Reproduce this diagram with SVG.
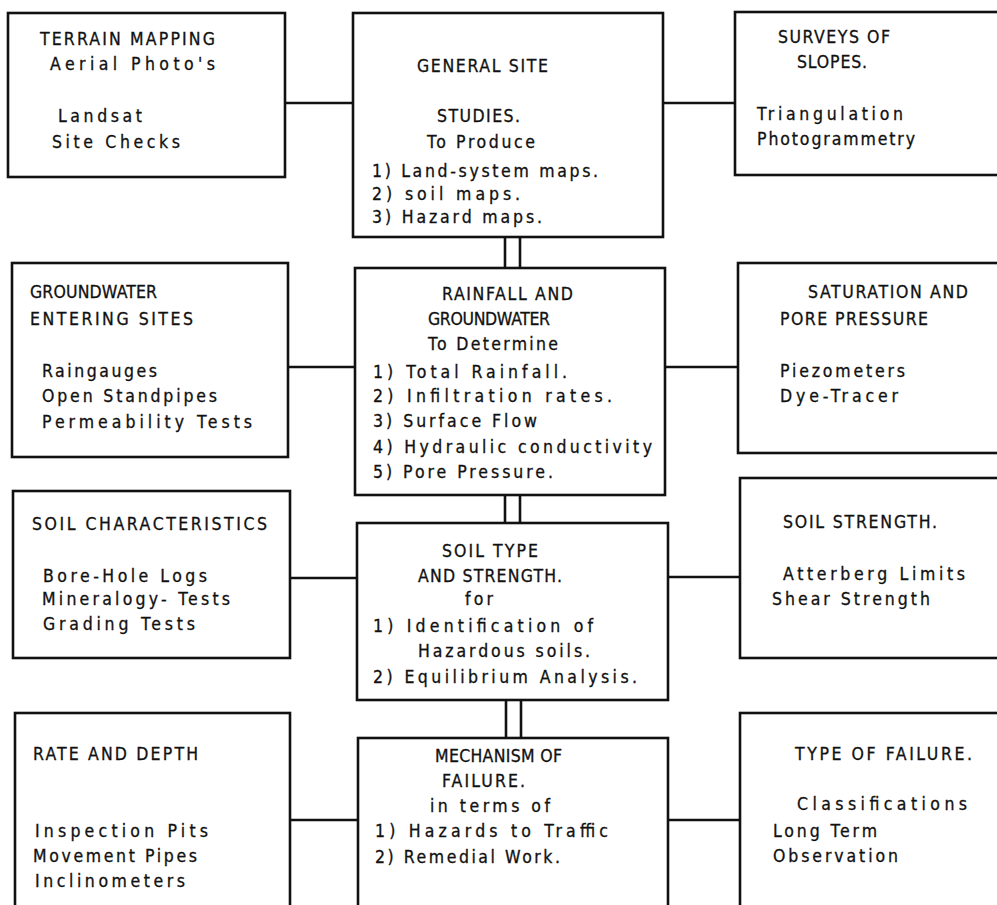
<svg xmlns="http://www.w3.org/2000/svg" width="997" height="905" viewBox="0 0 997 905">
<style>
  .box { fill: #ffffff; stroke: #111111; stroke-width: 2.6; }
  .ln { stroke: #111111; stroke-width: 2.6; fill: none; }
  text { font-family: "DejaVu Sans Condensed", "Liberation Sans", Arial, sans-serif; font-stretch: condensed; font-size: 17.5px; fill: #111111; stroke: #111111; stroke-width: 0.3; }
</style>
<rect width="997" height="905" fill="#ffffff"/>
<g id="connectors">
  <line class="ln" x1="285" y1="103" x2="353" y2="103"/>
  <line class="ln" x1="663" y1="103" x2="735" y2="103"/>
  <line class="ln" x1="288" y1="367" x2="355" y2="367"/>
  <line class="ln" x1="665" y1="367" x2="738" y2="367"/>
  <line class="ln" x1="290" y1="578" x2="357" y2="578"/>
  <line class="ln" x1="668" y1="577" x2="740" y2="577"/>
  <line class="ln" x1="290" y1="820" x2="358" y2="820"/>
  <line class="ln" x1="668" y1="820" x2="740" y2="820"/>
  <line class="ln" x1="505" y1="237" x2="505" y2="268"/>
  <line class="ln" x1="520" y1="237" x2="520" y2="268"/>
  <line class="ln" x1="505" y1="495" x2="505" y2="523"/>
  <line class="ln" x1="520" y1="495" x2="520" y2="523"/>
  <line class="ln" x1="506" y1="700" x2="506" y2="738"/>
  <line class="ln" x1="521" y1="700" x2="521" y2="738"/>
</g>
<g id="terrain-mapping">
  <rect class="box" x="8" y="13" width="277" height="164"/>
  <text x="40" y="45" textLength="175" lengthAdjust="spacing">TERRAIN MAPPING</text>
  <text x="50" y="70" textLength="165" lengthAdjust="spacing">Aerial Photo's</text>
  <text x="58" y="122" textLength="84" lengthAdjust="spacing">Landsat</text>
  <text x="52" y="148" textLength="128" lengthAdjust="spacing">Site Checks</text>
</g>
<g id="general-site-studies">
  <rect class="box" x="353" y="13" width="310" height="224"/>
  <text x="417" y="72" textLength="131" lengthAdjust="spacing">GENERAL SITE</text>
  <text x="437" y="122" textLength="83" lengthAdjust="spacing">STUDIES.</text>
  <text x="427" y="148" textLength="108" lengthAdjust="spacing">To Produce</text>
  <text x="372" y="177" textLength="226" lengthAdjust="spacing">1) Land-system maps.</text>
  <text x="372" y="200" textLength="148" lengthAdjust="spacing">2) soil maps.</text>
  <text x="372" y="223" textLength="170" lengthAdjust="spacing">3) Hazard maps.</text>
</g>
<g id="surveys-of-slopes">
  <rect class="box" x="735" y="12" width="280" height="163"/>
  <text x="778" y="43" textLength="112" lengthAdjust="spacing">SURVEYS OF</text>
  <text x="797" y="68" textLength="70" lengthAdjust="spacing">SLOPES.</text>
  <text x="757" y="120" textLength="146" lengthAdjust="spacing">Triangulation</text>
  <text x="757" y="145" textLength="158" lengthAdjust="spacing">Photogrammetry</text>
</g>
<g id="groundwater-entering-sites">
  <rect class="box" x="12" y="263" width="276" height="194"/>
  <text x="30" y="298" textLength="127" lengthAdjust="spacing">GROUNDWATER</text>
  <text x="30" y="325" textLength="163" lengthAdjust="spacing">ENTERING SITES</text>
  <text x="42" y="377" textLength="115" lengthAdjust="spacing">Raingauges</text>
  <text x="42" y="402" textLength="175" lengthAdjust="spacing">Open Standpipes</text>
  <text x="42" y="428" textLength="210" lengthAdjust="spacing">Permeability Tests</text>
</g>
<g id="rainfall-groundwater">
  <rect class="box" x="355" y="268" width="310" height="227"/>
  <text x="442" y="300" textLength="131" lengthAdjust="spacing">RAINFALL AND</text>
  <text x="428" y="325" textLength="122" lengthAdjust="spacing">GROUNDWATER</text>
  <text x="428" y="350" textLength="130" lengthAdjust="spacing">To Determine</text>
  <text x="373" y="378" textLength="194" lengthAdjust="spacing">1) Total Rainfall.</text>
  <text x="373" y="402" textLength="239" lengthAdjust="spacing">2) Infiltration rates.</text>
  <text x="373" y="427" textLength="164" lengthAdjust="spacing">3) Surface Flow</text>
  <text x="373" y="453" textLength="279" lengthAdjust="spacing">4) Hydraulic conductivity</text>
  <text x="373" y="478" textLength="180" lengthAdjust="spacing">5) Pore Pressure.</text>
</g>
<g id="saturation-pore-pressure">
  <rect class="box" x="738" y="263" width="280" height="190"/>
  <text x="808" y="298" textLength="160" lengthAdjust="spacing">SATURATION AND</text>
  <text x="780" y="325" textLength="148" lengthAdjust="spacing">PORE PRESSURE</text>
  <text x="780" y="377" textLength="125" lengthAdjust="spacing">Piezometers</text>
  <text x="780" y="402" textLength="118" lengthAdjust="spacing">Dye-Tracer</text>
</g>
<g id="soil-characteristics">
  <rect class="box" x="13" y="491" width="277" height="167"/>
  <text x="32" y="530" textLength="235" lengthAdjust="spacing">SOIL CHARACTERISTICS</text>
  <text x="43" y="582" textLength="164" lengthAdjust="spacing">Bore-Hole Logs</text>
  <text x="42" y="605" textLength="188" lengthAdjust="spacing">Mineralogy- Tests</text>
  <text x="43" y="630" textLength="152" lengthAdjust="spacing">Grading Tests</text>
</g>
<g id="soil-type-strength">
  <rect class="box" x="357" y="523" width="311" height="177"/>
  <text x="442" y="557" textLength="96" lengthAdjust="spacing">SOIL TYPE</text>
  <text x="418" y="582" textLength="144" lengthAdjust="spacing">AND STRENGTH.</text>
  <text x="465" y="605" textLength="28" lengthAdjust="spacing">for</text>
  <text x="373" y="632" textLength="220" lengthAdjust="spacing">1) Identification of</text>
  <text x="418" y="657" textLength="172" lengthAdjust="spacing">Hazardous soils.</text>
  <text x="373" y="683" textLength="264" lengthAdjust="spacing">2) Equilibrium Analysis.</text>
</g>
<g id="soil-strength">
  <rect class="box" x="740" y="478" width="280" height="180"/>
  <text x="783" y="528" textLength="154" lengthAdjust="spacing">SOIL STRENGTH.</text>
  <text x="783" y="580" textLength="182" lengthAdjust="spacing">Atterberg Limits</text>
  <text x="772" y="605" textLength="158" lengthAdjust="spacing">Shear Strength</text>
</g>
<g id="rate-and-depth">
  <rect class="box" x="15" y="713" width="275" height="210"/>
  <text x="33" y="760" textLength="165" lengthAdjust="spacing">RATE AND DEPTH</text>
  <text x="35" y="837" textLength="173" lengthAdjust="spacing">Inspection Pits</text>
  <text x="33" y="862" textLength="164" lengthAdjust="spacing">Movement Pipes</text>
  <text x="35" y="887" textLength="150" lengthAdjust="spacing">Inclinometers</text>
</g>
<g id="mechanism-of-failure">
  <rect class="box" x="358" y="738" width="310" height="185"/>
  <text x="435" y="762" textLength="127" lengthAdjust="spacing">MECHANISM OF</text>
  <text x="442" y="787" textLength="83" lengthAdjust="spacing">FAILURE.</text>
  <text x="430" y="812" textLength="120" lengthAdjust="spacing">in terms of</text>
  <text x="375" y="837" textLength="233" lengthAdjust="spacing">1) Hazards to Traffic</text>
  <text x="375" y="863" textLength="185" lengthAdjust="spacing">2) Remedial Work.</text>
</g>
<g id="type-of-failure">
  <rect class="box" x="740" y="713" width="280" height="210"/>
  <text x="795" y="760" textLength="177" lengthAdjust="spacing">TYPE OF FAILURE.</text>
  <text x="797" y="810" textLength="170" lengthAdjust="spacing">Classifications</text>
  <text x="773" y="837" textLength="104" lengthAdjust="spacing">Long Term</text>
  <text x="773" y="862" textLength="125" lengthAdjust="spacing">Observation</text>
</g>
</svg>
